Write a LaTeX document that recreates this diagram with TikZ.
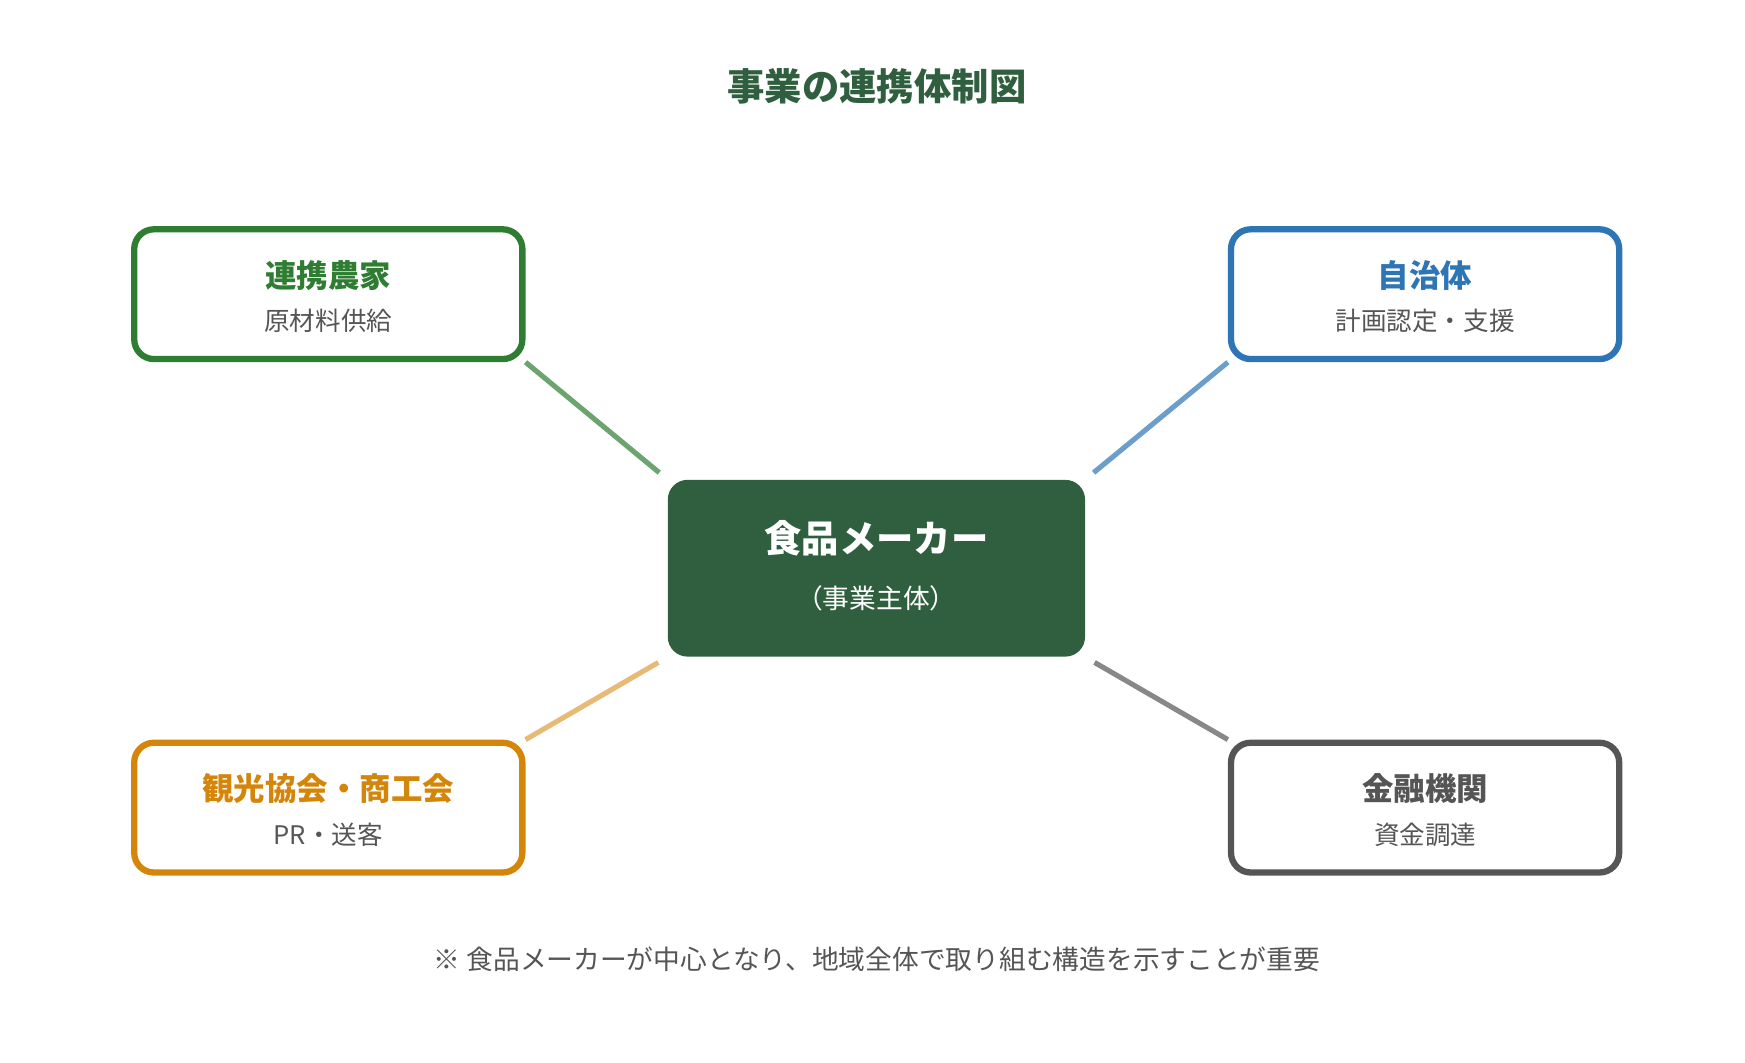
\documentclass[tikz,border=0pt]{standalone}
\usepackage{fontspec}
\setmainfont{Noto Sans CJK JP}
\usetikzlibrary{positioning}
\definecolor{maingreen}{HTML}{2F5F3F}
\definecolor{farmgreen}{HTML}{2E7D32}
\definecolor{cityblue}{HTML}{2E75B6}
\definecolor{tourorange}{HTML}{D4860B}
\definecolor{bankgray}{HTML}{555555}
\tikzset{
    partner/.style = {draw, line width = 1.6pt, rounded corners = 5pt, fill = white,
        minimum width = 3.47cm, minimum height = 1.16cm},
    link/.style = {line width = 1.3pt, opacity = .7, shorten >= 0.09cm}
}

\begin{document}
\begin{tikzpicture}
    \useasboundingbox (0, 0) rectangle (15.6, 9.5);
    \node[text = maingreen, font = \bfseries\fontsize{9.5}{11}\selectfont] (title) at (7.84, 8.73) {事業の連携体制図};

    \node[fill = maingreen, rounded corners = 5pt, minimum width = 3.73cm, minimum height = 1.58cm] (maker) at (7.835, 4.42) {};
    \node[text = white, font = \bfseries\fontsize{9.5}{11}\selectfont] (makername) at (7.835, 4.69) {食品メーカー};
    \node[text = white, font = \fontsize{6.8}{8}\selectfont] (makerrole) at (7.835, 4.15) {（事業主体）};

    \node[partner, draw = farmgreen] (farm) at (2.935, 6.87) {};
    \node[partner, draw = cityblue] (city) at (12.74, 6.87) {};
    \node[partner, draw = tourorange] (tour) at (2.935, 2.28) {};
    \node[partner, draw = bankgray] (bank) at (12.74, 2.28) {};

    \foreach \pbox/\col/\ptitle/\prole in {farm/farmgreen/連携農家/原材料供給, city/cityblue/自治体/計画認定・支援,
        tour/tourorange/観光協会・商工会/PR・送客, bank/bankgray/金融機関/資金調達} {
        \node[text = \col, font = \bfseries\fontsize{8}{10}\selectfont] (\pbox name) at ([yshift = 0.17cm]\pbox.center) {\ptitle};
        \node[text = bankgray, font = \fontsize{6.5}{8}\selectfont] (\pbox role) at ([yshift = -0.24cm]\pbox.center) {\prole};
    }

    \draw[link, draw = farmgreen] (farm.south east) -- (maker.north west);
    \draw[link, draw = cityblue] (city.south west) -- (maker.north east);
    \draw[link, draw = tourorange!80] (tour.north east) -- (maker.south west);
    \draw[link, draw = bankgray] (bank.north west) -- (maker.south east);

    \node[text = bankgray, font = \fontsize{6.8}{8}\selectfont] (note) at (7.84, 0.92) {※ 食品メーカーが中心となり、地域全体で取り組む構造を示すことが重要};
\end{tikzpicture}
\end{document}
